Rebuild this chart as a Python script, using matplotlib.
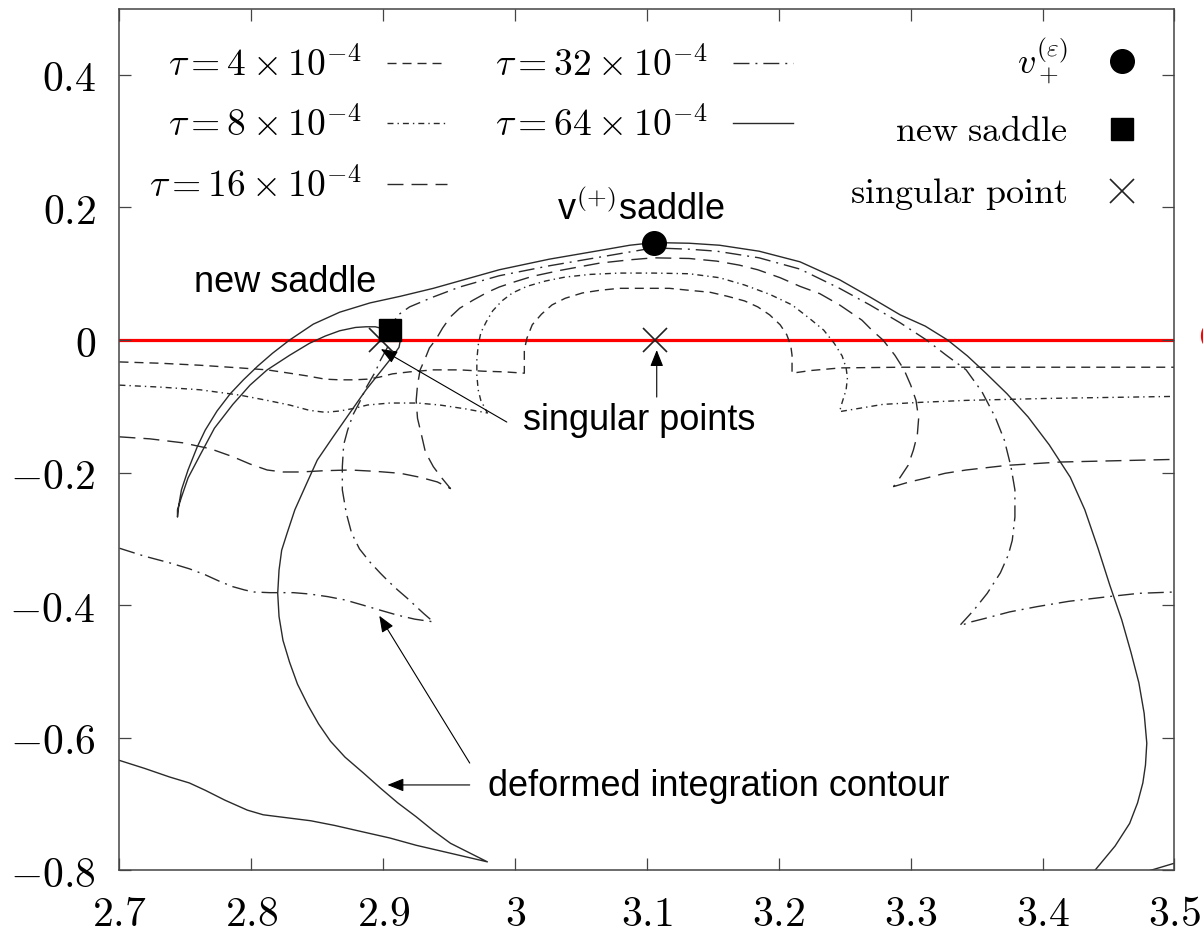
import matplotlib.pyplot as plt
from matplotlib.ticker import FuncFormatter

plt.rcParams['mathtext.fontset'] = 'cm'

# deformed contours in the complex v plane (x = Re v, y = Im v)
tau4_x = [2.700, 2.731, 2.761, 2.791, 2.812, 2.829, 2.842, 2.856, 2.867, 2.878,
          2.888, 2.897, 2.907, 2.920, 2.938, 2.958, 2.976, 2.992, 3.007,
          3.007, 3.009, 3.013, 3.020, 3.028, 3.038, 3.051, 3.064, 3.079, 3.095,
          3.105, 3.117, 3.132, 3.148, 3.161, 3.174, 3.184, 3.193, 3.201, 3.206,
          3.209, 3.210, 3.210, 3.224, 3.247, 3.292, 3.342, 3.500]
tau4_y = [-0.033, -0.035, -0.038, -0.042, -0.045, -0.050, -0.054, -0.059, -0.060, -0.060,
          -0.059, -0.056, -0.051, -0.048, -0.045, -0.045, -0.047, -0.048, -0.050,
          -0.015, 0.003, 0.023, 0.039, 0.053, 0.063, 0.071, 0.075, 0.078, 0.078,
          0.078, 0.078, 0.075, 0.072, 0.066, 0.059, 0.050, 0.038, 0.023, 0.008,
          -0.008, -0.023, -0.050, -0.046, -0.042, -0.041, -0.041, -0.041]

tau8_x = [2.700, 2.731, 2.761, 2.791, 2.812, 2.829, 2.844, 2.856, 2.867, 2.878,
          2.888, 2.905, 2.926, 2.943, 2.963, 2.979,
          2.974, 2.972, 2.971, 2.971, 2.972, 2.974, 2.978, 2.983, 2.990, 2.998,
          3.009, 3.023, 3.038, 3.057, 3.079, 3.105, 3.132, 3.155, 3.174, 3.193,
          3.210, 3.223, 3.234, 3.242, 3.248, 3.251, 3.252, 3.251, 3.248, 3.246,
          3.261, 3.279, 3.307, 3.342, 3.405, 3.500]
tau8_y = [-0.068, -0.071, -0.075, -0.083, -0.091, -0.098, -0.106, -0.109, -0.107, -0.103,
          -0.098, -0.095, -0.095, -0.098, -0.104, -0.110,
          -0.091, -0.075, -0.053, -0.030, -0.008, 0.011, 0.027, 0.044, 0.059, 0.071,
          0.081, 0.089, 0.095, 0.099, 0.101, 0.101, 0.100, 0.094, 0.083, 0.069,
          0.053, 0.033, 0.015, -0.005, -0.024, -0.042, -0.057, -0.075, -0.094, -0.108,
          -0.103, -0.097, -0.094, -0.091, -0.088, -0.085]

tau16_x = [2.700, 2.723, 2.748, 2.769, 2.786, 2.799, 2.812, 2.824, 2.837, 2.856,
           2.875, 2.894, 2.913, 2.928, 2.941, 2.951,
           2.944, 2.938, 2.932, 2.929, 2.926, 2.925, 2.926, 2.928, 2.932, 2.935,
           2.940, 2.945, 2.951, 2.958, 2.968, 2.979, 2.988, 3.000, 3.013, 3.034,
           3.064, 3.087, 3.105, 3.132, 3.153, 3.170, 3.184, 3.201, 3.216, 3.231,
           3.246, 3.263, 3.271, 3.279, 3.288, 3.295, 3.300, 3.304, 3.306, 3.305,
           3.302, 3.298, 3.292, 3.287,
           3.299, 3.310, 3.326, 3.342, 3.373, 3.413, 3.500]
tau16_y = [-0.146, -0.149, -0.155, -0.164, -0.176, -0.187, -0.196, -0.199, -0.199, -0.197,
           -0.196, -0.198, -0.201, -0.207, -0.214, -0.224,
           -0.207, -0.191, -0.169, -0.143, -0.118, -0.091, -0.068, -0.045, -0.027, -0.012,
           0.001, 0.018, 0.035, 0.048, 0.060, 0.072, 0.080, 0.088, 0.096, 0.105,
           0.116, 0.121, 0.124, 0.123, 0.119, 0.113, 0.106, 0.094, 0.081, 0.070,
           0.053, 0.030, 0.014, 0.000, -0.023, -0.045, -0.068, -0.091, -0.118, -0.143,
           -0.166, -0.189, -0.207, -0.221,
           -0.214, -0.209, -0.201, -0.196, -0.189, -0.184, -0.180]

tau32_x = [2.700, 2.719, 2.738, 2.753, 2.765, 2.776, 2.786, 2.795, 2.802, 2.814,
           2.832, 2.844, 2.858, 2.871, 2.885, 2.897, 2.911, 2.924, 2.938,
           2.931, 2.925, 2.918, 2.911, 2.904, 2.898, 2.890, 2.882, 2.876, 2.872,
           2.869, 2.869, 2.870, 2.873, 2.877, 2.882, 2.887, 2.894, 2.898, 2.903,
           2.906, 2.910, 2.920, 2.938, 2.958, 2.988, 3.026, 3.064, 3.105, 3.132,
           3.153, 3.185, 3.216, 3.246, 3.269, 3.292, 3.312, 3.327, 3.342, 3.354,
           3.364, 3.371, 3.376, 3.379, 3.379, 3.377, 3.374, 3.368, 3.358, 3.348,
           3.337, 3.346, 3.356, 3.375, 3.396, 3.420, 3.450, 3.473, 3.500]
tau32_y = [-0.314, -0.326, -0.336, -0.345, -0.354, -0.364, -0.372, -0.377, -0.380, -0.381,
           -0.381, -0.383, -0.387, -0.392, -0.400, -0.407, -0.415, -0.421, -0.425,
           -0.413, -0.402, -0.389, -0.377, -0.364, -0.352, -0.335, -0.315, -0.291, -0.261,
           -0.226, -0.191, -0.158, -0.136, -0.113, -0.094, -0.072, -0.048, -0.030, -0.012,
           0.011, 0.036, 0.050, 0.065, 0.080, 0.097, 0.112, 0.125, 0.139, 0.137,
           0.134, 0.124, 0.107, 0.078, 0.053, 0.026, 0.000, -0.023, -0.045, -0.078,
           -0.116, -0.151, -0.191, -0.226, -0.267, -0.302, -0.324, -0.351, -0.382, -0.407,
           -0.431, -0.425, -0.420, -0.410, -0.402, -0.394, -0.387, -0.382, -0.380]

tau64_x = [2.700, 2.719, 2.738, 2.753, 2.765, 2.780, 2.797, 2.809, 2.821, 2.833,
           2.845, 2.863, 2.885, 2.905, 2.925, 2.951, 2.979,
           2.966, 2.951, 2.938, 2.925, 2.911, 2.898, 2.885, 2.871, 2.860, 2.851,
           2.843, 2.835, 2.829, 2.824, 2.821, 2.820, 2.821, 2.823, 2.827, 2.833, 2.842,
           2.850, 2.862, 2.875, 2.887, 2.897, 2.907, 2.912, 2.913, 2.910, 2.904,
           2.894, 2.887, 2.879, 2.867, 2.856, 2.844, 2.829, 2.812, 2.799, 2.786,
           2.772, 2.761, 2.752, 2.747, 2.744, 2.744,
           2.745, 2.747, 2.752, 2.759, 2.765, 2.774, 2.784, 2.794, 2.805, 2.816,
           2.829, 2.847, 2.867, 2.890, 2.913, 2.938, 2.963, 2.988, 3.026, 3.064,
           3.087, 3.1055, 3.132, 3.155, 3.185, 3.216, 3.246, 3.269, 3.292, 3.311,
           3.328, 3.343, 3.357, 3.373, 3.389, 3.405, 3.421, 3.432, 3.442, 3.451,
           3.460, 3.467, 3.473, 3.477, 3.479, 3.478, 3.476, 3.472, 3.466, 3.455,
           3.440, 3.436]
tau64_y = [-0.634, -0.646, -0.659, -0.668, -0.679, -0.694, -0.709, -0.716, -0.719, -0.722,
           -0.725, -0.732, -0.742, -0.751, -0.762, -0.774, -0.787,
           -0.774, -0.759, -0.740, -0.719, -0.698, -0.676, -0.653, -0.629, -0.605, -0.579,
           -0.551, -0.519, -0.486, -0.453, -0.417, -0.382, -0.347, -0.317, -0.292, -0.256, -0.216,
           -0.181, -0.146, -0.109, -0.075, -0.050, -0.025, -0.011, 0.000, 0.009, 0.015,
           0.020, 0.020, 0.019, 0.014, 0.006, -0.005, -0.023, -0.045, -0.068, -0.097,
           -0.133, -0.174, -0.208, -0.237, -0.256, -0.267,
           -0.249, -0.226, -0.196, -0.161, -0.136, -0.107, -0.081, -0.060, -0.039, -0.020,
           0.000, 0.024, 0.042, 0.056, 0.066, 0.078, 0.092, 0.106, 0.122, 0.135,
           0.143, 0.147, 0.146, 0.143, 0.134, 0.118, 0.091, 0.065, 0.038, 0.021,
           0.000, -0.024, -0.050, -0.081, -0.116, -0.158, -0.207, -0.256, -0.314, -0.370,
           -0.422, -0.471, -0.517, -0.563, -0.608, -0.641, -0.668, -0.698, -0.729, -0.763,
           -0.799, -0.812]
# piece of the tau = 64 contour coming back in at the lower right corner
tau64b_x = [3.458, 3.500]
tau64b_y = [-0.814, -0.789]

# special points
vplus_x, vplus_y = [3.1055], [0.1468]
newsad_x, newsad_y = [2.905], [0.015]
sing_x, sing_y = [2.898, 3.1058], [0.0, 0.0]

xticks = [2.7, 2.8, 2.9, 3.0, 3.1, 3.2, 3.3, 3.4, 3.5]
yticks = [-0.8, -0.6, -0.4, -0.2, 0.0, 0.2, 0.4]

fig = plt.figure(figsize=(12.03, 9.36), dpi=100)
ax = fig.add_axes([0.0993, 0.0700, 0.8770, 0.9209])

lc = '#2a2a2a'
lw = 1.0
ax.axhline(0, color='red', lw=2.3, zorder=1)

l4, = ax.plot(tau4_x, tau4_y, color=lc, lw=lw, dashes=(6.5, 4.3),
              label=r'$\tau = 4 \times 10^{-4}$')
l8, = ax.plot(tau8_x, tau8_y, color=lc, lw=lw, dashes=(4.3, 2.9, 1.0, 2.9),
              label=r'$\tau = 8 \times 10^{-4}$')
l16, = ax.plot(tau16_x, tau16_y, color=lc, lw=lw, dashes=(11.5, 5.8),
               label=r'$\tau = 16 \times 10^{-4}$')
l32, = ax.plot(tau32_x, tau32_y, color=lc, lw=lw, dashes=(11.5, 4.3, 1.4, 4.3),
               label=r'$\tau = 32 \times 10^{-4}$')
l64, = ax.plot(tau64_x, tau64_y, color=lc, lw=lw, label=r'$\tau = 64 \times 10^{-4}$')
ax.plot(tau64b_x, tau64b_y, color=lc, lw=lw)

m1, = ax.plot(vplus_x, vplus_y, 'o', color='k', ms=17, zorder=5,
              label=r'$v_+^{(\varepsilon)}$')
m2, = ax.plot(newsad_x, newsad_y, 's', color='k', ms=16, zorder=5,
              label=r'$\mathrm{new\ saddle}$')
m3, = ax.plot(sing_x, sing_y, 'x', color='#222222', ms=17, mew=1.2, zorder=4,
              label=r'$\mathrm{singular\ point}$')

ax.set_xlim(2.7, 3.5)
ax.set_ylim(-0.8, 0.5)
ax.set_xticks(xticks)
ax.set_yticks(yticks)
fmt = FuncFormatter(lambda v, p: r'$%g$' % v)
ax.xaxis.set_major_formatter(fmt)
ax.yaxis.set_major_formatter(fmt)
ax.tick_params(direction='in', length=8.5, width=0.9, top=True, right=True,
               labelsize=30, color='#444444')
ax.tick_params(axis='x', pad=16)
ax.tick_params(axis='y', pad=17)
for s in ax.spines.values():
    s.set_linewidth(1.1)
    s.set_color('#444444')

leg1 = ax.legend(handles=[l4, l8, l16, l32, l64], ncol=2, loc='upper left',
                 bbox_to_anchor=(0.028, 0.955), markerfirst=False, frameon=False,
                 fontsize=27, handlelength=1.6, handletextpad=0.67, columnspacing=1.3,
                 labelspacing=0.64, borderpad=0, borderaxespad=0)
ax.add_artist(leg1)
ax.legend(handles=[m1, m2, m3], loc='upper right', bbox_to_anchor=(0.967, 0.967),
          markerfirst=False, frameon=False, fontsize=26, handlelength=1.0,
          handletextpad=1.0, labelspacing=0.78, borderpad=0, borderaxespad=0)

sans = 'Liberation Sans'
ax.text(2.7565, 0.072, 'new saddle', family=sans, fontsize=26, ha='left', va='baseline')
ax.text(3.0316, 0.181, r'v$^{(+)}$saddle', family=sans, fontsize=26, ha='left', va='baseline')
ax.text(3.0058, -0.136, 'singular points', family=sans, fontsize=26, ha='left', va='baseline')
ax.text(2.9793, -0.688, 'deformed integration contour', family=sans, fontsize=26,
        ha='left', va='baseline')

arrow = dict(arrowstyle='-|>,head_length=0.5,head_width=0.2', color='k', lw=0.8,
             mutation_scale=20, shrinkA=0, shrinkB=0)
ax.annotate('', xy=(2.8982, -0.0136), xytext=(2.9937, -0.1237), arrowprops=arrow)
ax.annotate('', xy=(3.1074, -0.0151), xytext=(3.1074, -0.086), arrowprops=arrow)
ax.annotate('', xy=(2.897, -0.4158), xytext=(2.9656, -0.638), arrowprops=arrow)
ax.annotate('', xy=(2.9032, -0.671), xytext=(2.9656, -0.671), arrowprops=arrow)

fig.text(0.9958, 0.6368, 'C', color='red', family=sans, fontsize=26, ha='left', va='center')

fig.savefig('out.png', dpi=100)
